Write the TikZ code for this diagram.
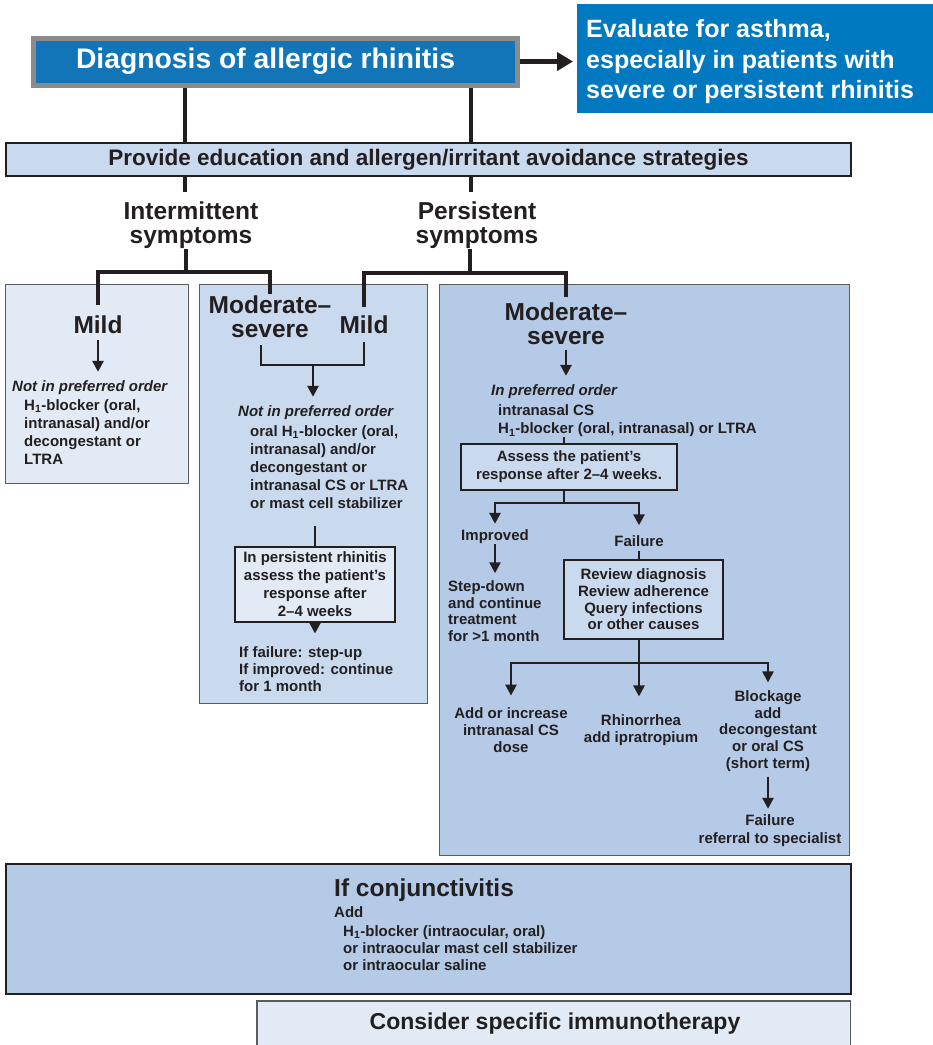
\documentclass[tikz,border=0pt]{standalone}
\usepackage{fontspec}
\setmainfont{Liberation Sans}
\usepackage{tikz}
\usetikzlibrary{arrows.meta}
\usetikzlibrary{calc}

\definecolor{ink}{HTML}{231F20}
\definecolor{diagblue}{HTML}{1275B8}
\definecolor{evalblue}{HTML}{0079C1}
\definecolor{pale}{HTML}{E2EAF5}
\definecolor{mid}{HTML}{CADAEE}
\definecolor{deep}{HTML}{B4CAE6}
\definecolor{rim}{HTML}{5A5B5D}
\definecolor{greyrim}{HTML}{8A8B8D}

\begin{document}
\begin{tikzpicture}[x=1pt, y=-1pt,
    every node/.style={inner sep=0pt, text=ink},
    body/.style={font=\fontsize{15}{18}\selectfont\bfseries},
    tight/.style={font=\fontsize{15}{16.7}\selectfont\bfseries},
    title/.style={font=\fontsize{24.5}{24}\selectfont\bfseries, align=center},
    panel/.style={draw=rim, line width=1.2pt, anchor=north west},
    stem/.style={draw=ink, line width=4pt},
    link/.style={draw=ink, line width=2.6pt},
    arr/.style={link, -{Triangle[width=11pt,length=11pt]}}]

        \useasboundingbox (0,0) rectangle (933,1045);

        % Background panels
        \node[panel, fill=pale, minimum width=183, minimum height=199] (pMild) at (5,284) {};
        \node[panel, fill=mid, minimum width=228, minimum height=419] (pMid) at (199,284) {};
        \node[panel, fill=deep, minimum width=410, minimum height=571] (pRight) at (439,284) {};

        % Top boxes
        \node[draw=greyrim, line width=5pt, fill=diagblue, minimum width=484, minimum height=47,
              text=white, font=\fontsize{28.3}{28}\selectfont\bfseries] (diag) at (275.5,61.5)
              {Diagnosis of allergic rhinitis\hspace*{20pt}};
        \node[fill=evalblue, anchor=north west, minimum width=356, minimum height=109] (eval) at (577,4) {};
        \node[anchor=west, align=left, text=white, font=\fontsize{25}{30.5}\selectfont\bfseries] (evalT) at (586,62)
              {Evaluate for asthma,\\especially in patients with\\severe or persistent rhinitis};
        \node[draw=ink, line width=2.5pt, fill=mid, minimum width=845, minimum height=33,
              font=\fontsize{22.5}{22.5}\selectfont\bfseries] (prov) at (428.5,159.5)
              {Provide education and allergen/irritant avoidance strategies};

        % Symptom classes
        \node[title] (inter) at (191,225) {Intermittent\\symptoms};
        \node[title] (pers) at (477,225) {Persistent\\symptoms};

        % Severity
        \node[title] (mildI) at (98,325) {Mild};
        \node[title] (modI) at (270,317) {Moderate--\\severe};
        \node[title] (mildP) at (364,325) {Mild};
        \node[title] (modP) at (566,324) {Moderate--\\severe};

        % Intermittent mild
        \node[body, anchor=west] (notI) at (12,388) {\itshape Not in preferred order};
        \node[body, anchor=west, align=left] (drugI) at (24,432)
              {H\textsubscript{1}-blocker (oral,\\intranasal) and/or\\decongestant or\\LTRA};

        % Middle panel
        \node[body, anchor=west] (notM) at (238,413) {\itshape Not in preferred order};
        \node[body, anchor=west, align=left] (drugM) at (250,467)
              {oral H\textsubscript{1}-blocker (oral,\\intranasal) and/or\\decongestant or\\intranasal CS or LTRA\\or mast cell stabilizer};
        \node[body, draw=ink, line width=1.2pt, fill=pale, minimum width=160, minimum height=75, align=center] (persBox) at (315,584.5)
              {In persistent rhinitis\\assess the patient's\\response after\\2--4 weeks};
        \node[tight, anchor=west, align=left] (ifpers) at (239,669)
              {If failure: step-up\\If improved: continue\\for 1 month};

        % Persistent moderate-severe
        \node[body, anchor=west] (prefR) at (491,392) {\itshape In preferred order};
        \node[body, anchor=west, align=left] (drugR) at (498,421)
              {intranasal CS\\H\textsubscript{1}-blocker (oral, intranasal) or LTRA};
        \node[body, draw=ink, line width=1.2pt, fill=mid, minimum width=216, minimum height=46, align=center] (assess) at (569,467)
              {Assess the patient's\\response after 2--4 weeks.};
        \node[body] (improved) at (495,537) {Improved};
        \node[body] (failA) at (639,541) {Failure};
        \node[tight, anchor=west, align=left] (stepdown) at (448,611)
              {Step-down\\and continue\\treatment\\for >1 month};
        \node[tight, draw=ink, line width=1.2pt, fill=mid, minimum width=159, minimum height=79, align=center] (review) at (643.5,599.5)
              {Review diagnosis\\Review adherence\\Query infections\\or other causes};
        \node[tight, align=center] (addinc) at (511,730) {Add or increase\\intranasal CS\\dose};
        \node[tight, align=center] (rhino) at (641,730) {Rhinorrhea\\add ipratropium};
        \node[tight, align=center] (block) at (768,731) {Blockage\\add\\decongestant\\or oral CS\\(short term)};
        \node[body, align=center] (failB) at (770,831) {Failure\\referral to specialist};

        % Conjunctivitis
        \node[fill=deep, draw=ink, line width=1.5pt, anchor=north west, minimum width=845, minimum height=130] (conj) at (5,863) {};
        \node[title, anchor=west] (conjT) at (334,890) {If conjunctivitis};
        \node[body, anchor=west] (conjAdd) at (334,912) {Add};
        \node[tight, anchor=west, align=left] (conjDrug) at (343,948)
              {H\textsubscript{1}-blocker (intraocular, oral)\\or intraocular mast cell stabilizer\\or intraocular saline};

        % Immunotherapy (cut at the bottom)
        \node[fill=pale, anchor=north west, minimum width=593, minimum height=50] (immu) at (257,1001) {};
        \draw[draw=rim, line width=1.2pt] (immu.south west) |- (immu.north east) -- (immu.south east);
        \node[font=\fontsize{23}{23}\selectfont\bfseries] (immuT) at (555,1024) {Consider specific immunotherapy};

        % Junctions
        \coordinate (xl) at (185,0);
        \coordinate (xr) at (471,0);
        \coordinate (jI) at (186,272);
        \coordinate (jP) at (470,273);
        \coordinate (jM) at (313,365);
        \coordinate (xa) at (564,0);
        \coordinate (jA) at (564,503);
        \coordinate (jR) at (639,663);

        % Top connectors
        \draw[draw=ink, line width=5pt, -{Triangle[width=18pt,length=16pt]}, shorten >=4pt] (diag.east) -- (eval.west |- diag.east);
        \draw[stem, line width=3.5pt] (diag.south -| xl) -- (prov.north -| xl);
        \draw[stem, line width=3.5pt] (diag.south -| xr) -- (prov.north -| xr);
        \draw[stem, line width=3.5pt, shorten >=9pt] (prov.south -| xl) -- (inter.north -| xl);
        \draw[stem, line width=3.5pt, shorten >=9pt] (prov.south -| xr) -- (pers.north -| xr);

        % Branches
        \draw[stem] (inter.south -| jI) -- (jI);
        \draw[stem, shorten <=11pt, shorten >=2pt] (mildI.north) |- (jI) -| (modI.north);
        \draw[stem] (pers.south -| jP) -- (jP);
        \draw[stem, shorten <=9pt, shorten >=6pt] (mildP.north) |- (jP) -| (modP.north);

        % Left panel arrow
        \draw[arr, shorten <=6pt, shorten >=9pt] (mildI.south) -- (mildI.south |- notI.north);

        % Middle panel connectors
        \draw[link, shorten <=7pt, shorten >=8pt] ([xshift=-9pt]modI.south) |- (jM) -| (mildP.south);
        \draw[arr, shorten >=9pt] (jM) -- (jM |- notM.north);
        \draw[link, shorten <=17pt] (drugM.south -| persBox.north) -- (persBox.north);
        \draw[arr, shorten >=13pt] (persBox.south) -- (persBox.south |- ifpers.north);

        % Right panel connectors
        \draw[arr, shorten <=5pt, shorten >=9pt] (modP.south) -- (modP.south |- prefR.north);
        \draw[link] (drugR.south -| xa) -- (assess.north -| xa);
        \draw[link] (assess.south -| jA) -- (jA);
        \draw[arr, shorten >=6pt] (jA) -| (improved.north);
        \draw[arr, shorten >=10pt] (jA) -| (failA.north);
        \draw[arr, shorten >=7pt] (improved.south) -- (improved.south |- stepdown.north);
        \draw[link, shorten <=4pt] (failA.south) -- (review.north -| failA.south);
        \draw[link] (review.south -| jR) -- (jR);
        \draw[arr, shorten >=12pt] (jR) -| (addinc.north);
        \draw[arr, shorten >=18pt] (jR) -- (jR |- rhino.north);
        \draw[arr, shorten >=8pt] (jR) -| (block.north);
        \draw[arr, shorten <=5pt, shorten >=6pt] (block.south) -- (block.south |- failB.north);

\end{tikzpicture}
\end{document}
